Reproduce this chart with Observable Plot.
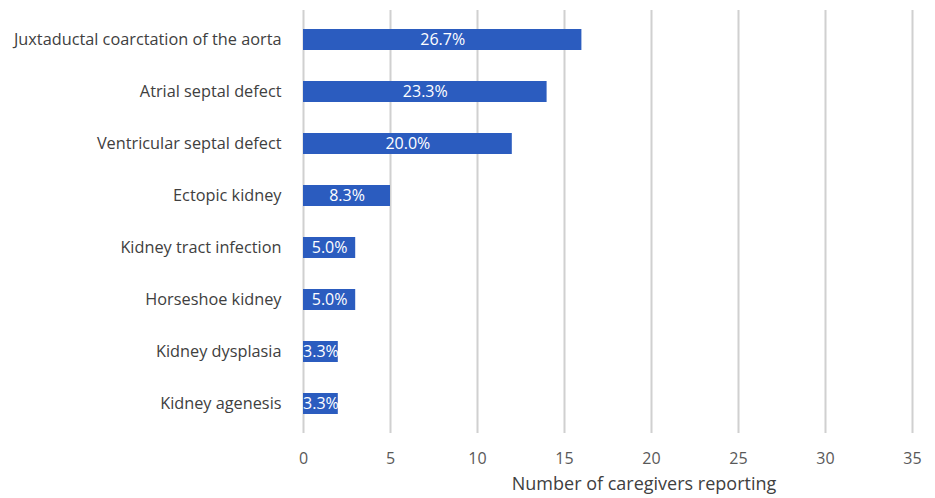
<!DOCTYPE html>
<html><head><meta charset="utf-8">
<script src="https://cdn.jsdelivr.net/npm/d3@7"></script>
<script src="https://cdn.jsdelivr.net/npm/@observablehq/plot@0.6"></script>
<style>body{margin:0;background:#fff;} svg{font-family:"Open Sans", Lato, sans-serif;}</style>
</head><body><div id="chart"></div>
<script>
const categories = ["Juxtaductal coarctation of the aorta","Atrial septal defect","Ventricular septal defect","Ectopic kidney","Kidney tract infection","Horseshoe kidney","Kidney dysplasia","Kidney agenesis"];
const counts = [16, 14, 12, 5, 3, 3, 2, 2];
const percents = ["26.7%","23.3%","20.0%","8.3%","5.0%","5.0%","3.3%","3.3%"];
const xTicks = [0,5,10,15,20,25,30,35];
const data = categories.map((c,i)=>({category:c, count:counts[i], pct:percents[i]}));

const chart = Plot.plot({
  width: 935, height: 498,
  marginLeft: 303, marginRight: 23, marginTop: 10, marginBottom: 65,
  x: {domain:[0,35], ticks: xTicks},
  y: {domain: categories, paddingInner: 0.6, paddingOuter: 0.313},
  style: {fontSize: "16px", color: "#404040", background: "#fff"},
  marks: [
    Plot.gridX(xTicks, {stroke:"#d0d0d0", strokeOpacity:1, strokeWidth:2}),
    Plot.barX(data, {x:"count", y:"category", fill:"#2b5cbf"}),
    Plot.text(data, {x: d=>d.count/2, y:"category", text:"pct", fill:"white", fontSize:16}),
    Plot.axisY({tickSize:0, tickPadding:22, label:null, fill:"#404040", fontSize:16.3}),
    Plot.axisX({tickSize:0, tickPadding:19, label:null, fill:"#595959", ticks: xTicks, fontSize:16}),
    Plot.text(["Number of caregivers reporting"], {frameAnchor:"bottom", dy:56, dx:36, text:d=>d, fill:"#404040", fontSize:18})
  ]
});
document.getElementById("chart").appendChild(chart);
</script></body></html>
